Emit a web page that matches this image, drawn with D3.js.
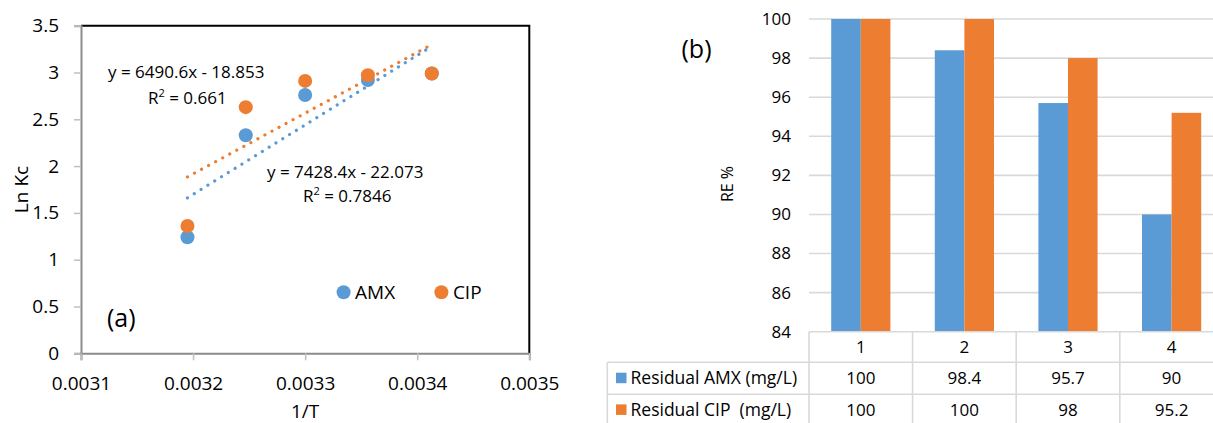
<!DOCTYPE html>
<html>
<head>
<meta charset="utf-8">
<script src="https://cdn.jsdelivr.net/npm/d3@7"></script>
<style>
  html, body { margin: 0; padding: 0; background: #fff; }
  svg { display: block; font-family: "Open Sans", "Noto Sans", sans-serif; }
</style>
</head>
<body>
<svg id="chart" width="1213" height="423"></svg>
<script>
// ---------- Data: panel (a) ----------
const invT = [0.003195, 0.003247, 0.0033, 0.003356, 0.003413];
const lnKcAMX = [1.24, 2.33, 2.76, 2.92, 2.99];
const lnKcCIP = [1.36, 2.63, 2.91, 2.97, 2.99];
const seriesNames = ["AMX", "CIP"];
const trendSlope = [7428.4, 6490.6];
const trendIntercept = [-22.073, -18.853];
const trendEq = ["y = 7428.4x - 22.073", "y = 6490.6x - 18.853"];
const trendR2 = ["0.7846", "0.661"];
const xTickValues = [0.0031, 0.0032, 0.0033, 0.0034, 0.0035];
const xTickLabels = ["0.0031", "0.0032", "0.0033", "0.0034", "0.0035"];
const yTickValues = [0, 0.5, 1, 1.5, 2, 2.5, 3, 3.5];
const yTickLabels = ["0", "0.5", "1", "1.5", "2", "2.5", "3", "3.5"];

// ---------- Data: panel (b) ----------
const categories = ["1", "2", "3", "4"];
const residualAMX = [100, 98.4, 95.7, 90];
const residualCIP = [100, 100, 98, 95.2];
const barSeriesNames = ["Residual AMX (mg/L)", "Residual CIP\u00a0 (mg/L)"];
const barYTicks = [84, 86, 88, 90, 92, 94, 96, 98, 100];

const BLUE = "#5B9BD5", ORANGE = "#ED7D31";
const colors = [BLUE, ORANGE];

const svg = d3.select("#chart");

// ================= Panel (a) =================
const A = { left: 81, right: 529.3, top: 25.7, bottom: 353.3 };
const xA = d3.scaleLinear().domain([0.0031, 0.0035]).range([A.left, A.right]);
const yA = d3.scaleLinear().domain([0, 3.5]).range([A.bottom, A.top]);
const gA = svg.append("g");

// plot border (top & right black)
gA.append("path")
  .attr("d", `M${A.left},${A.top}H${A.right}V${A.bottom}`)
  .attr("fill", "none").attr("stroke", "#000").attr("stroke-width", 2);

// y axis
const yAxisA = d3.axisLeft(yA).tickValues(yTickValues)
  .tickFormat((d, i) => yTickLabels[i]).tickSize(7).tickPadding(15);
const gyA = gA.append("g").attr("transform", `translate(${A.left},0)`).call(yAxisA);
gyA.select(".domain").attr("stroke", "#8c8c8c").attr("stroke-width", 2);
gyA.selectAll(".tick line").attr("stroke", "#bfbfbf").attr("stroke-width", 1.5);
gyA.selectAll(".tick text").attr("font-size", 19).attr("fill", "#000")
  .attr("font-family", "Open Sans");

// x axis
const xAxisA = d3.axisBottom(xA).tickValues(xTickValues)
  .tickFormat((d, i) => xTickLabels[i]).tickSize(7).tickPadding(16);
const gxA = gA.append("g").attr("transform", `translate(0,${A.bottom})`).call(xAxisA);
gxA.select(".domain").attr("stroke", "#8c8c8c").attr("stroke-width", 2);
gxA.selectAll(".tick line").attr("stroke", "#bfbfbf").attr("stroke-width", 1.5);
gxA.selectAll(".tick text").attr("font-size", 19).attr("fill", "#000")
  .attr("font-family", "Open Sans");

// axis titles
gA.append("text").attr("x", (A.left + A.right) / 2).attr("y", 418)
  .attr("text-anchor", "middle").attr("font-size", 19).text("1/T");
gA.append("text")
  .attr("transform", `translate(28,${(A.top + A.bottom) / 2}) rotate(-90)`)
  .attr("text-anchor", "middle").attr("font-size", 19).text("Ln Kc");

// trendlines (dotted)
const xmin = d3.min(invT), xmax = d3.max(invT);
[0, 1].forEach(s => {
  gA.append("line")
    .attr("x1", xA(xmin)).attr("y1", yA(trendSlope[s] * xmin + trendIntercept[s]))
    .attr("x2", xA(xmax)).attr("y2", yA(trendSlope[s] * xmax + trendIntercept[s]))
    .attr("stroke", colors[s]).attr("stroke-width", 3.2)
    .attr("stroke-linecap", "round").attr("stroke-dasharray", "0.01,8");
});

// points
const seriesData = [lnKcAMX, lnKcCIP];
seriesData.forEach((vals, s) => {
  gA.append("g").selectAll("circle").data(vals).join("circle")
    .attr("cx", (d, i) => xA(invT[i])).attr("cy", d => yA(d))
    .attr("r", 7).attr("fill", colors[s]);
});

// equations
function eq(x, y, txt) {
  gA.append("text").attr("x", x).attr("y", y).attr("font-size", 17).text(txt);
}
function r2(x, y, val) {
  const t = gA.append("text").attr("x", x).attr("y", y).attr("font-size", 17);
  t.append("tspan").text("R");
  t.append("tspan").attr("dy", -7).attr("font-size", 11).text("2");
  t.append("tspan").attr("dy", 7).text(" = " + val);
}
eq(108, 78.3, trendEq[1]);
r2(148, 104, trendR2[1]);
eq(267, 177.7, trendEq[0]);
r2(303, 201.7, trendR2[0]);

// legend
const legX = [343.6, 441.4];
seriesNames.forEach((n, s) => {
  gA.append("circle").attr("cx", legX[s]).attr("cy", 292.3).attr("r", 7).attr("fill", colors[s]);
  gA.append("text").attr("x", legX[s] + 11.5).attr("y", 298.8).attr("font-size", 19).text(n);
});

gA.append("text").attr("x", 107).attr("y", 326.5).attr("font-size", 25).text("(a)");

// ================= Panel (b) =================
const B = { left: 809, right: 1223.4, top: 19, bottom: 331.7 };
const xB = d3.scaleBand().domain(categories).range([B.left, B.right])
  .paddingInner(0.4286).paddingOuter(0.2143);
const xSub = d3.scaleBand().domain([0, 1]).range([0, xB.bandwidth()]);
const yB = d3.scaleLinear().domain([84, 100]).range([B.bottom, B.top]);
const gB = svg.append("g");
const GRID = "#d9d9d9";

// gridlines
gB.append("g").selectAll("line").data(barYTicks.slice(1)).join("line")
  .attr("x1", B.left).attr("x2", B.right)
  .attr("y1", d => yB(d)).attr("y2", d => yB(d))
  .attr("stroke", GRID).attr("stroke-width", 1.6);

// y axis labels
const yAxisB = d3.axisLeft(yB).tickValues(barYTicks).tickFormat(d3.format("d"))
  .tickSize(0).tickPadding(18);
const gyB = gB.append("g").attr("transform", `translate(${B.left},0)`).call(yAxisB);
gyB.select(".domain").remove();
gyB.selectAll(".tick text").attr("font-size", 17).attr("fill", "#000")
  .attr("font-family", "Open Sans");

// bars
const barData = [residualAMX, residualCIP];
barData.forEach((vals, s) => {
  gB.append("g").selectAll("rect").data(vals).join("rect")
    .attr("x", (d, i) => xB(categories[i]) + xSub(s))
    .attr("y", d => yB(d))
    .attr("width", xSub.bandwidth())
    .attr("height", d => yB(84) - yB(d))
    .attr("fill", colors[s]);
});

// Y title and (b)
gB.append("text")
  .attr("transform", `translate(733,184) rotate(-90)`)
  .attr("text-anchor", "middle").attr("font-size", 16).text("RE %");
gB.append("text").attr("x", 681.5).attr("y", 58).attr("font-size", 25).text("(b)");

// data table
const rowTop = [B.bottom, 362.3, 394.3, 426.3];
const tableLeft = 607.3;
const tbl = gB.append("g").attr("stroke", GRID).attr("stroke-width", 1.6);
tbl.append("line").attr("x1", B.left).attr("x2", B.right).attr("y1", rowTop[0]).attr("y2", rowTop[0]);
[1, 2, 3].forEach(r => {
  tbl.append("line").attr("x1", tableLeft).attr("x2", B.right).attr("y1", rowTop[r]).attr("y2", rowTop[r]);
});
tbl.append("line").attr("x1", tableLeft).attr("x2", tableLeft).attr("y1", rowTop[1]).attr("y2", rowTop[3]);
const colEdges = categories.map(c => xB(c) - xB.step() * xB.paddingInner() / 2);
colEdges.push(B.right);
colEdges.forEach(x => {
  tbl.append("line").attr("x1", x).attr("x2", x).attr("y1", rowTop[0]).attr("y2", rowTop[3]);
});

// category labels
gB.append("g").selectAll("text").data(categories).join("text")
  .attr("x", d => xB(d) + xB.bandwidth() / 2).attr("y", 352.7)
  .attr("text-anchor", "middle").attr("font-size", 17).text(d => d);

// row values
const rowBase = [384, 415.7];
barData.forEach((vals, s) => {
  gB.append("g").selectAll("text").data(vals).join("text")
    .attr("x", (d, i) => xB(categories[i]) + xB.bandwidth() / 2).attr("y", rowBase[s])
    .attr("text-anchor", "middle").attr("font-size", 17).text(d => d);
  gB.append("rect").attr("x", 616).attr("y", rowBase[s] - 11.3)
    .attr("width", 10.5).attr("height", 10.5).attr("fill", colors[s]);
  gB.append("text").attr("x", 630.5).attr("y", rowBase[s])
    .attr("font-size", 17.5).text(barSeriesNames[s]);
});
</script>
</body>
</html>
